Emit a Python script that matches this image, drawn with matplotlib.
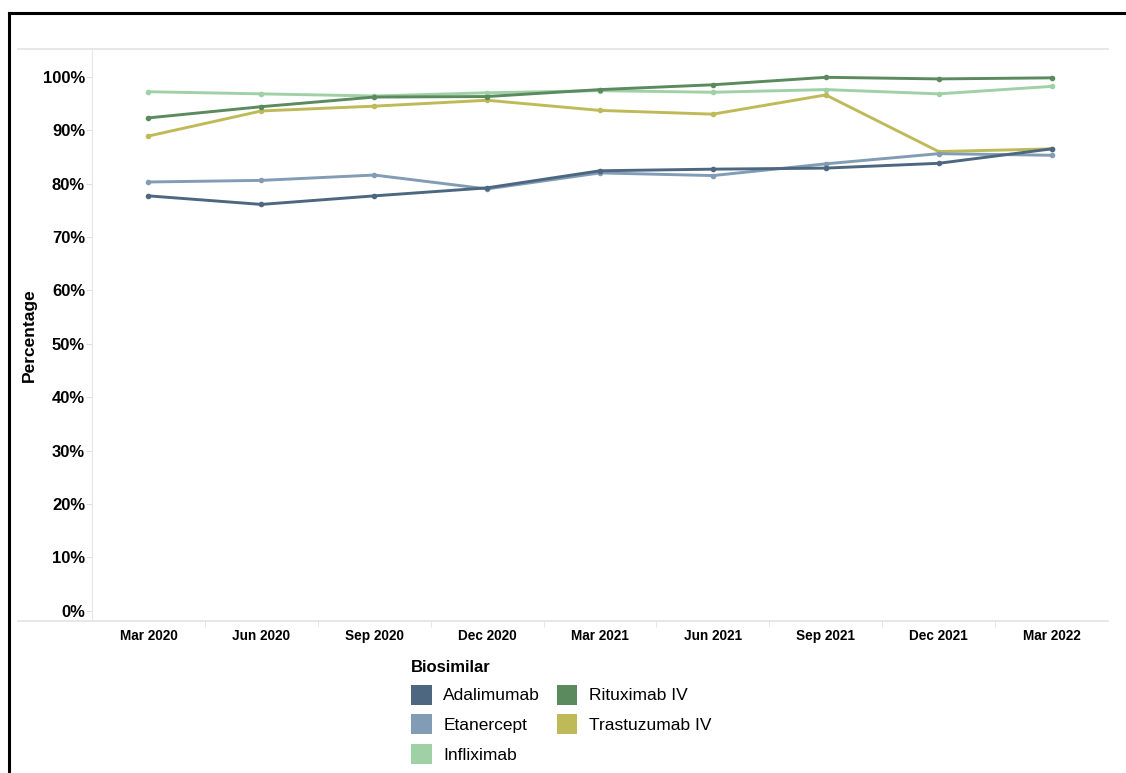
import matplotlib
matplotlib.use("Agg")
import matplotlib.pyplot as plt
from matplotlib.patches import Patch
from matplotlib.lines import Line2D

plt.rcParams['font.family'] = ['Liberation Sans', 'DejaVu Sans']

quarters = ["Mar 2020", "Jun 2020", "Sep 2020", "Dec 2020", "Mar 2021",
            "Jun 2021", "Sep 2021", "Dec 2021", "Mar 2022"]

adalimumab = [77.7, 76.1, 77.7, 79.2, 82.4, 82.7, 82.9, 83.8, 86.5]
etanercept = [80.3, 80.6, 81.6, 79.0, 82.0, 81.5, 83.7, 85.6, 85.3]
infliximab = [97.2, 96.8, 96.4, 97.0, 97.4, 97.1, 97.6, 96.8, 98.2]
rituximab = [92.3, 94.4, 96.2, 96.3, 97.6, 98.5, 99.9, 99.6, 99.8]
trastuzumab = [88.9, 93.6, 94.5, 95.6, 93.7, 93.0, 96.6, 86.0, 86.5]

names = ["Adalimumab", "Etanercept", "Infliximab", "Rituximab IV", "Trastuzumab IV"]
series = [adalimumab, etanercept, infliximab, rituximab, trastuzumab]
colors = ["#4d6781", "#819cb4", "#a0d1a6", "#5b8a5f", "#bfba58"]

fig = plt.figure(figsize=(11.26, 7.73), dpi=100)
ax = fig.add_axes([92/1126, 1 - 621/773, (1108 - 92)/1126, (621 - 49)/773])

x = list(range(len(quarters)))
# lighter lines first so the darker ones sit on top
for i in [2, 4, 1, 0, 3]:
    ax.plot(x, series[i], color=colors[i], lw=2.1, marker="o", ms=3,
            solid_joinstyle="round", zorder=3)

ax.set_xlim(-0.5, len(quarters) - 0.5)
ax.set_ylim(-1.9, 105.2)

ax.set_yticks(range(0, 101, 10))
ax.set_yticklabels([f"{v}%" for v in range(0, 101, 10)], fontsize=12, fontweight="bold")
ax.set_xticks(x)
ax.set_xticklabels(quarters, fontsize=9.8, fontweight="bold")
ax.set_xticks([v + 0.5 for v in x[:-1]], minor=True)
ax.tick_params(axis="x", which="major", length=0, pad=6)
ax.tick_params(axis="x", which="minor", length=4, color="#e0e0e0")
ax.tick_params(axis="y", length=4, color="#e0e0e0", pad=1)

for s in ["top", "right", "bottom"]:
    ax.spines[s].set_visible(False)
ax.spines["left"].set_color("#e6e6e6")

# header and baseline rules that run past the axis
for yy in [0, 1]:
    ax.plot([-(92 - 18)/1016, 1], [yy, yy], transform=ax.transAxes,
            color="#e3e3e3", lw=1.2, clip_on=False, zorder=1)

ax.set_ylabel("Percentage", fontsize=12.5, fontweight="bold", labelpad=4)

# outer black frame
fig.add_artist(Line2D([9/1126, 1.0], [1 - 13/773, 1 - 13/773], color="black", lw=2.2,
                      transform=fig.transFigure))
fig.add_artist(Line2D([9/1126, 9/1126], [0, 1 - 13/773], color="black", lw=2.2,
                      transform=fig.transFigure))

handles = [Patch(facecolor=c, edgecolor="none") for c in colors]
leg = fig.legend(handles, names, loc="upper left",
                 bbox_to_anchor=(399/1126, 1 - 648/773), ncol=2, frameon=False,
                 fontsize=12.5, title="Biosimilar", alignment="left",
                 title_fontproperties={"weight": "bold", "size": 12},
                 handlelength=1.19, handleheight=1.4, handletextpad=0.66,
                 labelspacing=0.55, columnspacing=0.95, borderpad=0.2)

fig.savefig("out.png", dpi=100)
